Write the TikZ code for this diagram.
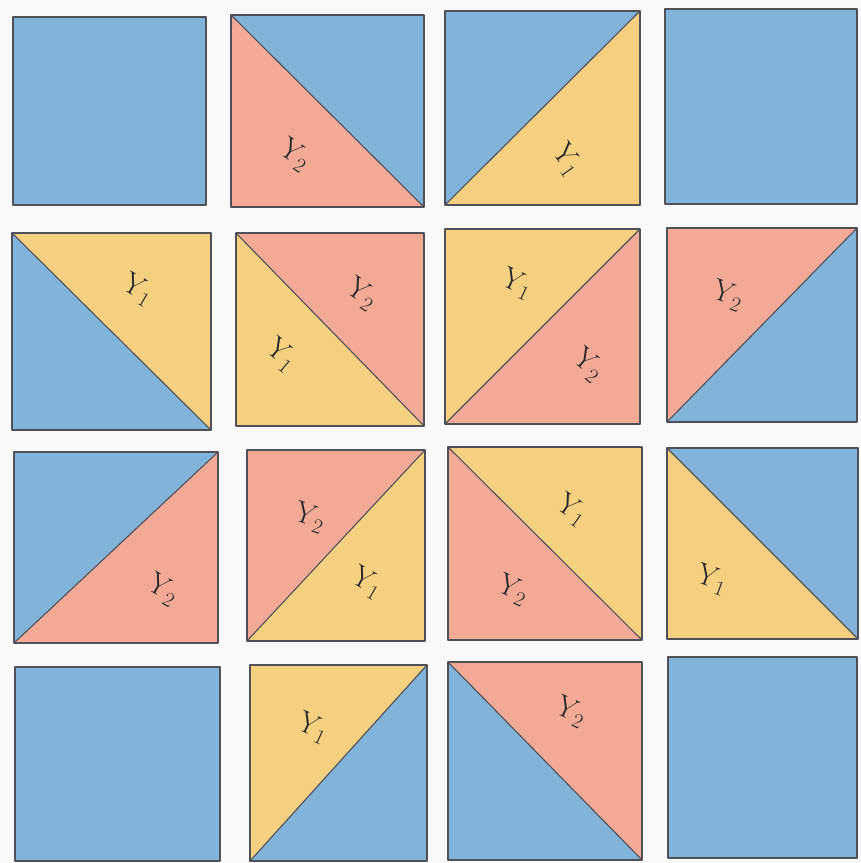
\documentclass[tikz,border=0pt]{standalone}
\definecolor{qblue}{RGB}{130,180,218}
\definecolor{qsalmon}{RGB}{242,170,150}
\definecolor{qyellow}{RGB}{245,208,128}
\definecolor{qline}{RGB}{80,80,88}
\definecolor{qpaper}{RGB}{249,249,249}
\tikzset{
  edge/.style={draw=qline,line width=1.1pt,line join=round},
  lab/.style={font=\fontsize{30}{30}\selectfont, text=black!85, inner sep=0pt}
}
\newcommand{\qfull}[5]{\fill[#5] (#1,#2) rectangle (#3,#4); \draw[edge] (#1,#2) rectangle (#3,#4);}
% diagonal top-left to bottom-right: #5 upper-right, #6 lower-left
\newcommand{\qdown}[6]{%
  \fill[#5] (#1,#2) -- (#3,#2) -- (#3,#4) -- cycle;
  \fill[#6] (#1,#2) -- (#1,#4) -- (#3,#4) -- cycle;
  \draw[edge] (#1,#2) rectangle (#3,#4);
  \draw[edge] (#1,#2) -- (#3,#4);}
% diagonal bottom-left to top-right: #5 upper-left, #6 lower-right
\newcommand{\qup}[6]{%
  \fill[#5] (#1,#2) -- (#3,#2) -- (#1,#4) -- cycle;
  \fill[#6] (#3,#2) -- (#3,#4) -- (#1,#4) -- cycle;
  \draw[edge] (#1,#2) rectangle (#3,#4);
  \draw[edge] (#1,#4) -- (#3,#2);}
\begin{document}
\begin{tikzpicture}[x=1pt,y=-1pt]
\fill[qpaper] (0,0) rectangle (861,863);
\useasboundingbox (0,0) rectangle (861,863);
% row 1
\qfull{13}{17}{206}{205}{qblue}
\qdown{231}{15}{424}{207}{qblue}{qsalmon}
\qup{445}{11}{640}{205}{qblue}{qyellow}
\qfull{665}{9}{857}{204}{qblue}
% row 2
\qdown{12}{233}{211}{430}{qyellow}{qblue}
\qdown{236}{233}{424}{426}{qsalmon}{qyellow}
\qup{445}{229}{640}{424}{qyellow}{qsalmon}
\qup{667}{228}{857}{422}{qsalmon}{qblue}
% row 3
\qup{14}{452}{218}{643}{qblue}{qsalmon}
\qup{247}{450}{425}{641}{qsalmon}{qyellow}
\qdown{448}{447}{642}{640}{qyellow}{qsalmon}
\qdown{667}{448}{858}{639}{qblue}{qyellow}
% row 4
\qfull{15}{667}{220}{861}{qblue}
\qup{250}{665}{427}{861}{qyellow}{qblue}
\qdown{448}{662}{642}{860}{qsalmon}{qblue}
\qfull{668}{657}{857}{858}{qblue}
% labels
\node[lab,rotate=-35] (l12) at (295,155) {Y\textsubscript{2}};
\node[lab,rotate=-55] (l13) at (567,160) {Y\textsubscript{1}};
\node[lab,rotate=-30] (l21) at (138,290) {Y\textsubscript{1}};
\node[lab,rotate=-35] (l22a) at (362,294) {Y\textsubscript{2}};
\node[lab,rotate=-40] (l22b) at (281,355) {Y\textsubscript{1}};
\node[lab,rotate=-25] (l23a) at (517,284) {Y\textsubscript{1}};
\node[lab,rotate=-40] (l23b) at (588,365) {Y\textsubscript{2}};
\node[lab,rotate=-20] (l24) at (728,296) {Y\textsubscript{2}};
\node[lab,rotate=-30] (l31) at (163,590) {Y\textsubscript{2}};
\node[lab,rotate=-20] (l32a) at (310,518) {Y\textsubscript{2}};
\node[lab,rotate=-30] (l32b) at (367,583) {Y\textsubscript{1}};
\node[lab,rotate=-35] (l33a) at (572,510) {Y\textsubscript{1}};
\node[lab,rotate=-25] (l33b) at (513,590) {Y\textsubscript{2}};
\node[lab,rotate=-20] (l34) at (712,580) {Y\textsubscript{1}};
\node[lab,rotate=-25] (l42) at (313,728) {Y\textsubscript{1}};
\node[lab,rotate=-25] (l43) at (571,712) {Y\textsubscript{2}};
\end{tikzpicture}
\end{document}
